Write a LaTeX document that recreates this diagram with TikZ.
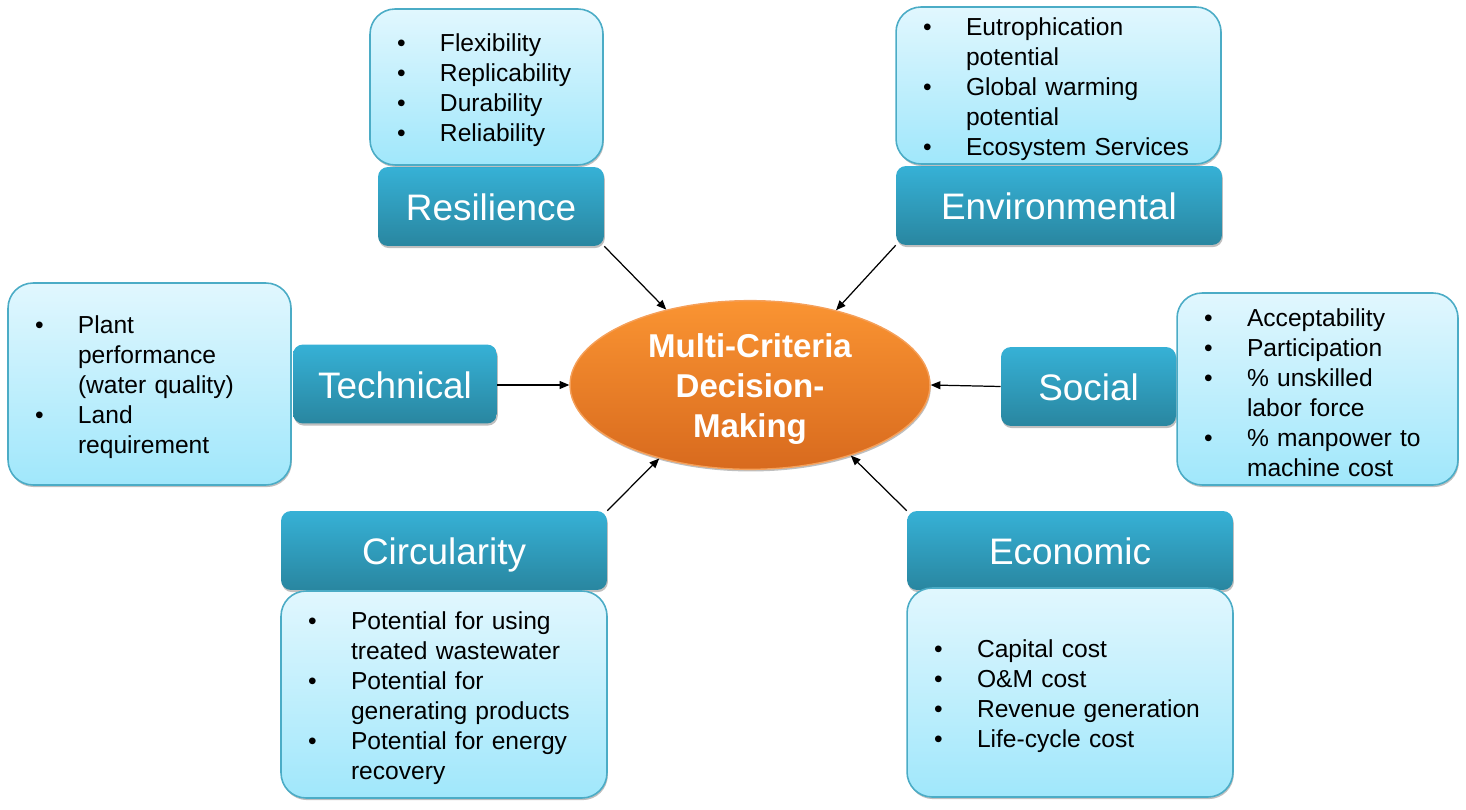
\documentclass[tikz,border=0pt]{standalone}
\usepackage{fontspec}
\setmainfont{Liberation Sans}
\usepackage{tikz}
\usetikzlibrary{arrows.meta,shapes.geometric,shadows}

\definecolor{listtop}{RGB}{225,247,254}
\definecolor{listbot}{RGB}{160,231,251}
\definecolor{boxedge}{RGB}{75,172,198}
\definecolor{headtop}{RGB}{54,177,214}
\definecolor{headbot}{RGB}{41,134,160}
\definecolor{coretop}{RGB}{250,148,50}
\definecolor{corebot}{RGB}{216,106,30}
\definecolor{coreedge}{RGB}{245,160,90}

\newcommand{\bul}{\makebox[0.86cm][l]{\textbullet}}
\newcommand{\cnt}{\hspace*{0.86cm}}

\tikzset{
  softshadow/.style={drop shadow={shadow xshift=0.5pt, shadow yshift=-1.2pt, opacity=0.25, fill=black}},
  listbox/.style={draw=boxedge, line width=0.9pt, rounded corners=0.5cm,
    top color=listtop, bottom color=listbot, softshadow,
    inner xsep=0.54cm, inner ysep=0pt, align=left,
    font=\fontsize{14}{17.07}\selectfont,
    execute at begin node={\rule{0pt}{14.2pt}}},
  headbox/.style={draw=none, rounded corners=0.2cm, top color=headtop, bottom color=headbot,
    softshadow, text=white, inner sep=0pt, minimum height=1.58cm,
    text height=18pt, text depth=1.5pt,
    font=\fontsize{21}{25}\selectfont},
  core/.style={ellipse, draw=coreedge, line width=0.8pt, top color=coretop, bottom color=corebot,
    softshadow, text=white, align=center, inner sep=0pt,
    minimum width=7.2cm, minimum height=3.32cm,
    text height=63.9pt, text depth=4pt,
    font=\fontsize{18.8}{22.8}\selectfont\bfseries}
}

\begin{document}
\begin{tikzpicture}[x=0.02cm, y=-0.02cm, >={Triangle[length=5.5pt,width=4.5pt]}]
    \useasboundingbox (0,0) rectangle (1466,810);

    % Centre
    \node[core] (mcdm) at (750,385) {Multi-Criteria\\Decision-\\Making};

    % Criteria headings
    \node[headbox, minimum width=4.52cm] (reshead) at (491,206.5) {Resilience};
    \node[headbox, minimum width=6.52cm] (envhead) at (1059,205.5) {Environmental};
    \node[headbox, minimum width=4.08cm] (techhead) at (395,384) {Technical};
    \node[headbox, minimum width=3.5cm] (sochead) at (1088.5,386.5) {Social};
    \node[headbox, minimum width=6.52cm] (circhead) at (444,550.5) {Circularity};
    \node[headbox, minimum width=6.52cm] (econhead) at (1070,550.5) {Economic};

    % Indicator lists
    \node[listbox, text width=3.58cm, minimum height=3.12cm] (reslist) at (486.5,87)
      {\bul Flexibility\\ \bul Replicability\\ \bul Durability\\ \bul Reliability};
    \node[listbox, text width=5.42cm, minimum height=3.14cm] (envlist) at (1058.5,85.5)
      {\bul Eutrophication\\ \cnt potential\\ \bul Global warming\\ \cnt potential\\ \bul Ecosystem Services};
    \node[listbox, text width=4.58cm, minimum height=4.04cm] (techlist) at (149.5,384)
      {\bul Plant\\ \cnt performance\\ \cnt (water quality)\\ \bul Land\\ \cnt requirement};
    \node[listbox, text width=4.54cm, minimum height=3.84cm] (soclist) at (1317.5,389)
      {\bul Acceptability\\ \bul Participation\\ \bul \% unskilled\\ \cnt labor force\\ \bul \% manpower to\\ \cnt machine cost};
    \node[listbox, text width=5.44cm, minimum height=4.14cm] (circlist) at (444,694.5)
      {\bul Potential for using\\ \cnt treated wastewater\\ \bul Potential for\\ \cnt generating products\\ \bul Potential for energy\\ \cnt recovery};
    \node[listbox, text width=5.44cm, minimum height=4.18cm] (econlist) at (1070,692.5)
      {\bul Capital cost\\ \bul O\&M cost\\ \bul Revenue generation\\ \bul Life-cycle cost};

    % Arrows into the centre
    \draw[->, line width=0.7pt] (reshead.south east) -- (mcdm.138);
    \draw[->, line width=0.7pt] (envhead.south west) -- (mcdm.41);
    \draw[->, line width=0.7pt] (techhead.east |- mcdm.west) -- (mcdm.west);
    \draw[->, line width=0.7pt] (sochead.west) -- (mcdm.east);
    \draw[->, line width=0.7pt] (circhead.north east) -- (mcdm.219);
    \draw[->, line width=0.7pt] (econhead.north west) -- (mcdm.-35);
\end{tikzpicture}
\end{document}
